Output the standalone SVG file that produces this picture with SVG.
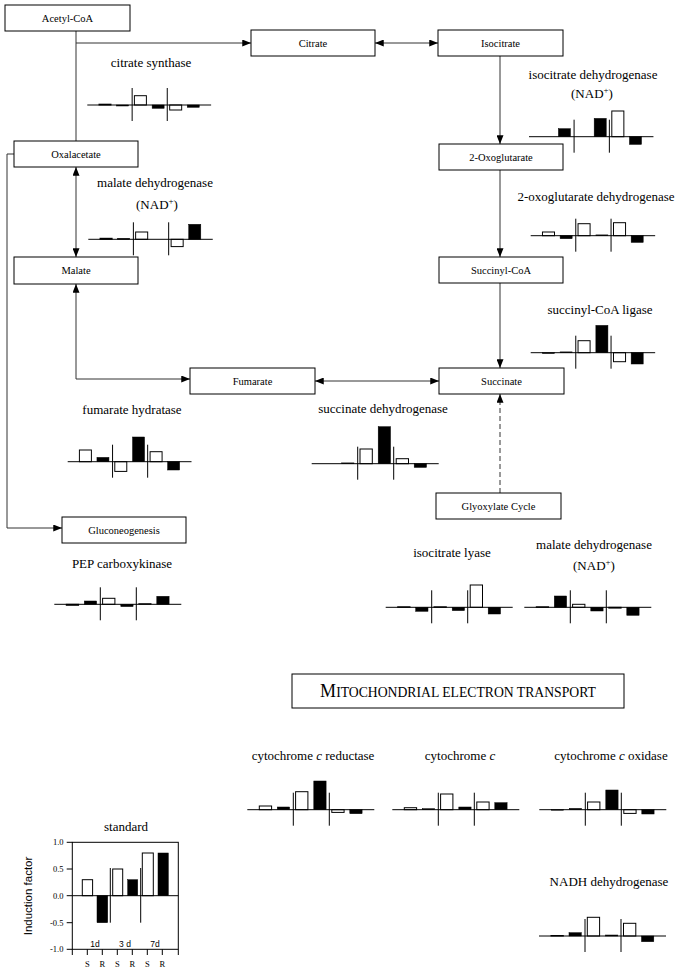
<svg xmlns="http://www.w3.org/2000/svg" xmlns:xlink="http://www.w3.org/1999/xlink" width="680" height="974" viewBox="0 0 680 974">
<style>
.box{fill:#fff;stroke:#000;stroke-width:1}
.bl{font-family:"Liberation Serif",serif;font-size:10.5px;text-anchor:middle;fill:#000}
.lab{font-family:"Liberation Serif",serif;font-size:13px;text-anchor:middle;fill:#000}
.con{fill:none;stroke:#333;stroke-width:1}
.ax{stroke:#000;stroke-width:1;fill:none}
.w{fill:#fff;stroke:#000;stroke-width:1}
.k{fill:#000;stroke:#000;stroke-width:0.5}
.sm{font-family:"Liberation Serif",serif;font-size:8.5px;fill:#000}
.ss{font-family:"Liberation Sans",Arial,sans-serif;font-size:8.5px;fill:#000;text-anchor:middle}
</style>
<defs>
<marker id="arr" viewBox="0 0 10 8" refX="10" refY="4" markerWidth="9" markerHeight="7" markerUnits="userSpaceOnUse" orient="auto-start-reverse">
<path d="M0,0 L10,4 L0,8 Z" fill="#000"/>
</marker>
<g id="axes" class="ax">
<line x1="0" y1="0" x2="127" y2="0"/>
<line x1="46" y1="-17" x2="46" y2="16"/>
<line x1="82" y1="-17" x2="82" y2="16"/>
</g>
</defs>
<rect width="680" height="974" fill="#fff"/>

<g id="connectors">
<path class="con" d="M76,31 L76,141"/>
<path class="con" d="M76,43 L251,43" marker-end="url(#arr)"/>
<path class="con" d="M375,43 L438,43" marker-start="url(#arr)" marker-end="url(#arr)"/>
<path class="con" d="M500,56 L500,144" marker-end="url(#arr)"/>
<path class="con" d="M500,170 L500,257" marker-end="url(#arr)"/>
<path class="con" d="M500,283 L500,368" marker-end="url(#arr)"/>
<path class="con" d="M76,167 L76,257" marker-start="url(#arr)" marker-end="url(#arr)"/>
<path class="con" d="M76,284 L76,379 L190,379" marker-start="url(#arr)" marker-end="url(#arr)"/>
<path class="con" d="M315,381 L439,381" marker-start="url(#arr)" marker-end="url(#arr)"/>
<path class="con" d="M500,493 L500,394" stroke="#000" stroke-width="1.4" stroke-dasharray="5,3" marker-end="url(#arr)"/>
<path class="con" d="M14,154 L7,154 L7,528 L62,528" stroke-width="1.5" marker-end="url(#arr)"/>
</g>

<g id="acetylcoa"><rect class="box" x="5" y="5" width="125" height="26"/><text class="bl" x="67.5" y="21.5">Acetyl-CoA</text></g>
<g id="citrate"><rect class="box" x="251" y="30" width="124" height="26"/><text class="bl" x="313" y="46.5">Citrate</text></g>
<g id="isocitrate"><rect class="box" x="438" y="30" width="125" height="26"/><text class="bl" x="500.5" y="46.5">Isocitrate</text></g>
<g id="oxalacetate"><rect class="box" x="14" y="141" width="124" height="26"/><text class="bl" x="76" y="157.5">Oxalacetate</text></g>
<g id="oxoglutarate"><rect class="box" x="439" y="144" width="124" height="26"/><text class="bl" x="501" y="160.5">2-Oxoglutarate</text></g>
<g id="malate"><rect class="box" x="14" y="257" width="124" height="27"/><text class="bl" x="76" y="274">Malate</text></g>
<g id="succinylcoa"><rect class="box" x="439" y="257" width="124" height="26"/><text class="bl" x="501" y="273.5">Succinyl-CoA</text></g>
<g id="fumarate"><rect class="box" x="190" y="368" width="125" height="26"/><text class="bl" x="252.5" y="384.5">Fumarate</text></g>
<g id="succinate"><rect class="box" x="439" y="368" width="125" height="26"/><text class="bl" x="501.5" y="384.5">Succinate</text></g>
<g id="glyoxylate"><rect class="box" x="436" y="493" width="125" height="26"/><text class="bl" x="498.5" y="509.5">Glyoxylate Cycle</text></g>
<g id="gluconeogenesis"><rect class="box" x="62" y="517" width="124" height="26"/><text class="bl" x="124" y="533.5">Gluconeogenesis</text></g>

<g id="mito">
<rect class="box" x="292" y="674" width="332" height="34"/>
<text x="458" y="697" font-family="Liberation Serif,serif" text-anchor="middle" fill="#000"><tspan font-size="18">M</tspan><tspan font-size="13.7">ITOCHONDRIAL ELECTRON TRANSPORT</tspan></text>
</g>

<g id="labels">
<text class="lab" x="151" y="67">citrate synthase</text>
<text class="lab" x="593" y="79">isocitrate dehydrogenase</text>
<text class="lab" x="592" y="98">(NAD<tspan dy="-5" font-size="9">+</tspan><tspan dy="5">)</tspan></text>
<text class="lab" x="155" y="187">malate dehydrogenase</text>
<text class="lab" x="157" y="209">(NAD<tspan dy="-5" font-size="9">+</tspan><tspan dy="5">)</tspan></text>
<text class="lab" x="596" y="201">2-oxoglutarate dehydrogenase</text>
<text class="lab" x="600" y="314">succinyl-CoA ligase</text>
<text class="lab" x="132" y="414">fumarate hydratase</text>
<text class="lab" x="383" y="413">succinate dehydrogenase</text>
<text class="lab" x="122" y="568">PEP carboxykinase</text>
<text class="lab" x="452" y="557">isocitrate lyase</text>
<text class="lab" x="594" y="549">malate dehydrogenase</text>
<text class="lab" x="594" y="570">(NAD<tspan dy="-5" font-size="9">+</tspan><tspan dy="5">)</tspan></text>
<text class="lab" x="313" y="760">cytochrome <tspan font-style="italic">c</tspan> reductase</text>
<text class="lab" x="460" y="760">cytochrome <tspan font-style="italic">c</tspan></text>
<text class="lab" x="611" y="760">cytochrome <tspan font-style="italic">c</tspan> oxidase</text>
<text class="lab" x="609" y="886">NADH dehydrogenase</text>
<text class="lab" x="126" y="831">standard</text>
</g>

<g id="chart-cs" transform="translate(87.3,105) scale(0.975,1)">
<rect class="w" x="12" y="-0.8" width="12.3" height="0.8"/>
<rect class="k" x="30" y="0" width="12.3" height="1"/>
<rect class="w" x="48.3" y="-9.3" width="12.3" height="9.3"/>
<rect class="k" x="66.5" y="0" width="12.3" height="3.3"/>
<rect class="w" x="84.5" y="0" width="12.3" height="5"/>
<rect class="k" x="102.5" y="0" width="12.3" height="2.3"/>
<use href="#axes"/>
</g>
<g id="chart-idh" transform="translate(529,136.7) scale(0.98,1)">
<rect class="k" x="30" y="-8" width="12.3" height="8"/>
<rect class="k" x="66.5" y="-18.3" width="12.3" height="18.3"/>
<rect class="w" x="84.5" y="-25.7" width="12.3" height="25.7"/>
<rect class="k" x="102.5" y="0" width="12.3" height="7.7"/>
<use href="#axes"/>
</g>
<g id="chart-mdh1" transform="translate(88.3,239.3) scale(0.98,1)">
<rect class="w" x="12" y="-1" width="12.3" height="1"/>
<rect class="k" x="30" y="-1" width="12.3" height="1"/>
<rect class="w" x="48.3" y="-7.3" width="12.3" height="7.3"/>
<rect class="w" x="84.5" y="0" width="12.3" height="7.3"/>
<rect class="k" x="102.5" y="-15" width="12.3" height="15"/>
<use href="#axes"/>
</g>
<g id="chart-ogdh" transform="translate(530.7,235.7) scale(0.98,1)">
<rect class="w" x="12" y="-3.7" width="12.3" height="3.7"/>
<rect class="k" x="30" y="0" width="12.3" height="3"/>
<rect class="w" x="48.3" y="-12" width="12.3" height="12"/>
<rect class="k" x="66.5" y="-0.8" width="12.3" height="0.8"/>
<rect class="w" x="84.5" y="-13" width="12.3" height="13"/>
<rect class="k" x="102.5" y="0" width="12.3" height="6.7"/>
<use href="#axes"/>
</g>
<g id="chart-scl" transform="translate(530.7,352.7) scale(0.98,1)">
<rect class="k" x="12" y="0" width="12.3" height="0.8"/>
<rect class="k" x="30" y="-0.8" width="12.3" height="0.8"/>
<rect class="w" x="48.3" y="-12" width="12.3" height="12"/>
<rect class="k" x="66.5" y="-27.3" width="12.3" height="27.3"/>
<rect class="w" x="84.5" y="0" width="12.3" height="9"/>
<rect class="k" x="102.5" y="0" width="12.3" height="11.3"/>
<use href="#axes"/>
</g>
<g id="chart-fh" transform="translate(67.7,461.7) scale(0.975,1)">
<rect class="w" x="12" y="-11.7" width="12.3" height="11.7"/>
<rect class="k" x="30" y="-4.3" width="12.3" height="4.3"/>
<rect class="w" x="48.3" y="0" width="12.3" height="9.7"/>
<rect class="k" x="66.5" y="-24.7" width="12.3" height="24.7"/>
<rect class="w" x="84.5" y="-10" width="12.3" height="10"/>
<rect class="k" x="102.5" y="0" width="12.3" height="8.3"/>
<use href="#axes"/>
</g>
<g id="chart-sdh" transform="translate(311.7,463.7)">
<rect class="k" x="30" y="-0.8" width="12.3" height="0.8"/>
<rect class="w" x="48.3" y="-14.7" width="12.3" height="14.7"/>
<rect class="k" x="66.5" y="-37" width="12.3" height="37"/>
<rect class="w" x="84.5" y="-5" width="12.3" height="5"/>
<rect class="k" x="102.5" y="0" width="12.3" height="3.7"/>
<use href="#axes"/>
</g>
<g id="chart-pepck" transform="translate(54.3,604.3)">
<rect class="w" x="12" y="0" width="12.3" height="1" stroke="#777"/>
<rect class="k" x="30" y="-3.3" width="12.3" height="3.3"/>
<rect class="w" x="48.3" y="-6" width="12.3" height="6"/>
<rect class="k" x="66.5" y="0" width="12.3" height="2.3"/>
<rect class="k" x="84.5" y="-0.8" width="12.3" height="0.8"/>
<rect class="k" x="102.5" y="-8" width="12.3" height="8"/>
<use href="#axes"/>
</g>
<g id="chart-icl" transform="translate(385.7,607.3)">
<rect class="w" x="12" y="-0.5" width="12.3" height="0.5" stroke="#777"/>
<rect class="k" x="30" y="0" width="12.3" height="4"/>
<rect class="w" x="48.3" y="-0.5" width="12.3" height="0.5" stroke="#777"/>
<rect class="k" x="66.5" y="0" width="12.3" height="3.3"/>
<rect class="w" x="84.5" y="-22.3" width="12.3" height="22.3"/>
<rect class="k" x="102.5" y="0" width="12.3" height="6.7"/>
<use href="#axes"/>
</g>
<g id="chart-mdh2" transform="translate(524.3,607.3)">
<rect class="w" x="12" y="-0.5" width="12.3" height="0.5" stroke="#777"/>
<rect class="k" x="30" y="-11.3" width="12.3" height="11.3"/>
<rect class="w" x="48.3" y="-3" width="12.3" height="3"/>
<rect class="k" x="66.5" y="0" width="12.3" height="3.7"/>
<rect class="w" x="84.5" y="0" width="12.3" height="0.8" stroke="#777"/>
<rect class="k" x="102.5" y="0" width="12.3" height="8"/>
<use href="#axes"/>
</g>
<g id="chart-ccr" transform="translate(247.3,809.7)">
<rect class="w" x="12" y="-3.7" width="12.3" height="3.7"/>
<rect class="k" x="30" y="-2.7" width="12.3" height="2.7"/>
<rect class="w" x="48.3" y="-18" width="12.3" height="18"/>
<rect class="k" x="66.5" y="-28.7" width="12.3" height="28.7"/>
<rect class="w" x="84.5" y="0" width="12.3" height="2.7"/>
<rect class="k" x="102.5" y="0" width="12.3" height="4"/>
<use href="#axes"/>
</g>
<g id="chart-cc" transform="translate(392.3,809.7)">
<rect class="w" x="12" y="-2" width="12.3" height="2"/>
<rect class="k" x="30" y="-1" width="12.3" height="1"/>
<rect class="w" x="48.3" y="-15.7" width="12.3" height="15.7"/>
<rect class="k" x="66.5" y="-2.7" width="12.3" height="2.7"/>
<rect class="w" x="84.5" y="-7.7" width="12.3" height="7.7"/>
<rect class="k" x="102.5" y="-7" width="12.3" height="7"/>
<use href="#axes"/>
</g>
<g id="chart-cco" transform="translate(539.3,809.7)">
<rect class="k" x="12" y="0" width="12.3" height="0.5"/>
<rect class="k" x="30" y="-1.3" width="12.3" height="1.3"/>
<rect class="w" x="48.3" y="-7.7" width="12.3" height="7.7"/>
<rect class="k" x="66.5" y="-19.7" width="12.3" height="19.7"/>
<rect class="w" x="84.5" y="0" width="12.3" height="3.7"/>
<rect class="k" x="102.5" y="0" width="12.3" height="4.3"/>
<use href="#axes"/>
</g>
<g id="chart-nadh" transform="translate(539,936)">
<rect class="w" x="12" y="-0.5" width="12.3" height="0.5" stroke="#777"/>
<rect class="k" x="30" y="-3.3" width="12.3" height="3.3"/>
<rect class="w" x="48.3" y="-18.7" width="12.3" height="18.7"/>
<rect class="k" x="66.5" y="-1" width="12.3" height="1"/>
<rect class="w" x="84.5" y="-12.7" width="12.3" height="12.7"/>
<rect class="k" x="102.5" y="0" width="12.3" height="5.7"/>
<use href="#axes"/>
</g>

<g id="standard">
<rect class="w" x="82.3" y="879.7" width="10.3" height="16"/>
<rect class="k" x="97" y="895.7" width="10.7" height="27"/>
<rect class="w" x="112.7" y="869" width="10" height="26.7"/>
<rect class="k" x="127.7" y="879.7" width="10" height="16"/>
<rect class="w" x="142.3" y="853" width="11" height="42.7"/>
<rect class="k" x="158" y="853" width="10.3" height="42.7"/>
<rect class="ax" x="72.3" y="842.3" width="106" height="107"/>
<path class="ax" d="M72.3,895.7 H178.3 M110.3,868 V922.7 M140.7,868 V922.7 M66.7,842.3 H72.3 M66.7,869 H72.3 M66.7,895.7 H72.3 M66.7,922.7 H72.3 M66.7,949.3 H72.3 M72.3,949.3 V955 M87.3,949.3 V955 M102.3,949.3 V955 M117.3,949.3 V955 M132.3,949.3 V955 M147.3,949.3 V955 M162.3,949.3 V955 M178.3,949.3 V955"/>
<g class="sm" text-anchor="end">
<text x="63.5" y="845.3">1.0</text>
<text x="63.5" y="872">0.5</text>
<text x="63.5" y="898.7">0.0</text>
<text x="63.5" y="925.7">-0.5</text>
<text x="63.5" y="952.3">-1.0</text>
</g>
<text class="ss" x="95" y="947">1d</text>
<text class="ss" x="125" y="947">3 d</text>
<text class="ss" x="155" y="947">7d</text>
<g class="sm" text-anchor="middle">
<text x="87.3" y="967">S</text>
<text x="102.3" y="967">R</text>
<text x="117.3" y="967">S</text>
<text x="132.3" y="967">R</text>
<text x="147.3" y="967">S</text>
<text x="162.3" y="967">R</text>
</g>
<text transform="translate(32,896) rotate(-90)" x="0" y="0" font-family="Liberation Sans,Arial,sans-serif" font-size="11.5" text-anchor="middle" fill="#000">Induction factor</text>
</g>
</svg>
